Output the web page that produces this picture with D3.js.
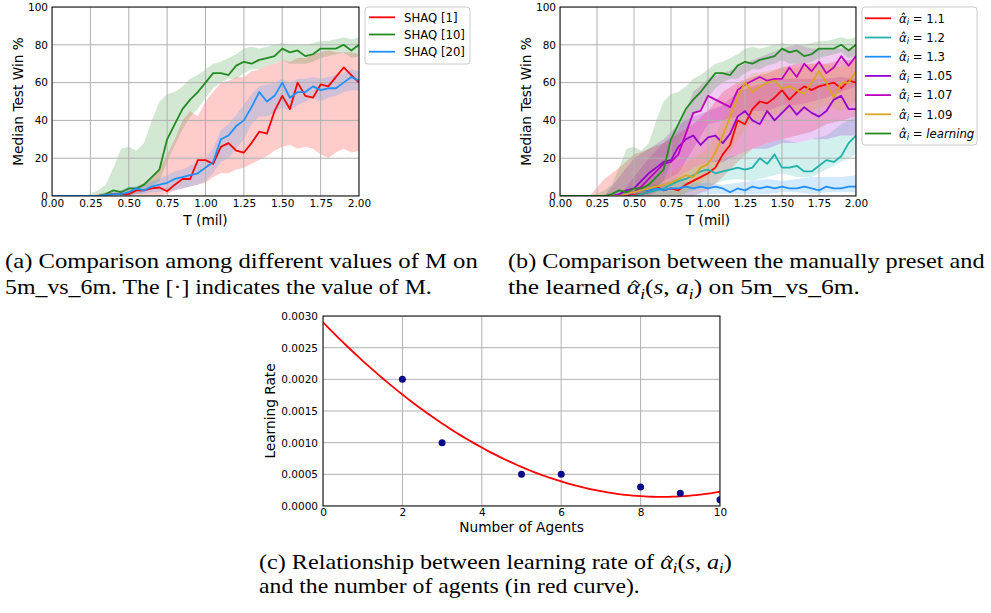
<!DOCTYPE html>
<html>
<head>
<meta charset="utf-8">
<script src="https://cdn.jsdelivr.net/npm/d3@7"></script>
<style>
body { margin: 0; background: #fff; }
svg text { font-family: "DejaVu Sans", sans-serif; fill: #000; }
svg .cap text { font-family: "Liberation Serif", "Times New Roman", serif; }
</style>
</head>
<body>
<svg id="fig" width="991" height="613"></svg>
<script>
// sample times (million steps)
var T = [0,0.05,0.1,0.15,0.2,0.25,0.3,0.35,0.4,0.45,0.5,0.55,0.6,0.65,0.7,0.75,0.8,0.85,0.9,0.95,
         1,1.05,1.1,1.15,1.2,1.25,1.3,1.35,1.4,1.45,1.5,1.55,1.6,1.65,1.7,1.75,1.8,1.85,1.9,1.95,2];
var TB = [0,0.1,0.2,0.3,0.4,0.5,0.6,0.7,0.8,0.9,1,1.1,1.2,1.3,1.4,1.5,1.6,1.7,1.8,1.9,2];
var xTicks = [0,0.25,0.5,0.75,1,1.25,1.5,1.75,2];
var yTicks = [0,20,40,60,80,100];

// panel (a): median win % and spread bands
var shaq1  = [0,0,0,0,0,0,0,0.5,1,1,1,3,3,4,4.5,2.5,6,9,9,19,19,17,26,28,24,23,28,34,33,45,53,46,60,53,52,59,58,63,68,64,60];
var shaq10 = [0,0,0,0,0,0,0,1,3,2,4,4,6,10,14,30,38,46,51,55,60,65,65,64,69,71,70,72,73,74,78,76,77,74,75,78,78,78,80,77,80];
var shaq20 = [0,0,0,0,0,0,0,0.5,1,1,2,4,3,5,6,7,9,10,11,12,15,18,30,32,37,40,47,55,50,53,60,52,55,55,58,56,57,57,60,63,61];
var shaq10Hi = [0,0,0,0,0,1,3,6,15,25,26,24,28,40,50,54,55,58,62,64,67,70,71,73,75,78,79,78,79,80,81,80,80,80,81,82,82,83,84,83,84];
var shaq10Lo = [0,0,0,0,0,0,0,0,0,0,0,1,2,5,8,18,27,35,42,46,52,57,60,62,62,65,67,67,69,70,72,70,70,70,71,73,74,75,76,73,74];
var shaq1Hi  = [0,0,0,0,0,0,1,2,2,3,4,5,7,10,15,22,30,40,45,42,50,55,60,61,63,63,66,67,69,70,72,71,73,73,75,76,77,76,76,76,75];
var shaq1Lo  = [0,0,0,0,0,0,0,0,0,0,0,0,0,0,0,1,3,4,5,6,7,10,12,12,14,15,17,19,21,24,26,27,25,26,25,22,20,23,25,23,24];
var shaq20Hi = [0,0,0,0,0,0,0,0,2,3,5,5,6,8,9,11,13,14,16,18,20,25,35,38,43,48,54,58,59,60,62,60,62,62,63,62,63,64,65,67,66];
var shaq20Lo = [0,0,0,0,0,0,0,0,0,0,0,1,1,2,2,3,3,4,5,6,8,12,18,20,25,30,38,42,42,44,47,45,48,50,52,50,52,53,55,56,56];

// panel (b): preset alpha values vs learned
var a11  = [0,0,0,0,0,0,0,0,0,0,0.5,1,2,5,3,4,3,6,8,10,12,15,22,27,40,38,46,50,49,52,56,51,55,58,56,58,59,60,57,61,60];
var a12  = [0,0,0,0,0,0,0,0,0,0,0,1,2,3,4,6,8,9,11,13,14,12,13,14,15,14,15,20,17,22,15,15,16,13,13,16,19,18,21,28,32];
var a13  = [0,0,0,0,0,0,0,0,0,1,2,3,3,4,3,4,4,5,4,5,4,5,4,2,4,3,5,4,5,4,5,4,4,5,4,3,5,4,4,5,5];
var a105 = [0,0,0,0,0,0,0,0,1,3,4,8,12,15,18,19,26,30,32,27,31,32,28,33,42,45,40,38,45,40,44,48,43,47,44,42,45,51,53,46,46];
var a107 = [0,0,0,0,0,0,0,0,0,0,2,5,9,13,17,18,22,33,44,45,53,51,49,47,56,59,61,63,61,62,62,68,63,70,66,71,65,68,74,69,74];
var a109 = [0,0,0,0,0,0,0,0,0,1,2,3,4,5,6,7,9,11,10,15,17,23,32,42,52,60,55,58,60,61,57,58,56,54,60,66,60,52,60,60,66];
var a11Hi  = [0,0,0,9,15,22,25,28,33,38,45,55,60,63,65,68,70,70,70,72,72];
var a11Lo  = [0,0,0,0,0,0,0,0,0,0,3,10,18,25,28,30,32,34,38,40,42];
var a12Hi  = [0,0,0,0,0,0,3,6,10,15,18,20,22,25,28,30,28,30,32,38,42];
var a12Lo  = [0,0,0,0,0,0,0,0,0,3,5,8,9,8,10,12,10,10,14,18,22];
var a13Hi  = [0,0,0,0,0,4,6,7,8,7,7,6,7,8,9,8,9,10,10,10,11];
var a13Lo  = [0,0,0,0,0,0,0,0,0,0,1,1,1,1,1,2,2,1,2,2,2];
var a105Hi = [0,0,0,0,10,20,25,30,38,42,45,48,55,58,60,62,62,62,62,63,62];
var a105Lo = [0,0,0,0,0,0,0,4,10,15,18,18,22,25,25,28,28,30,30,32,32];
var a107Hi = [0,0,0,0,0,10,20,28,35,55,62,65,68,72,75,78,80,78,78,78,78];
var a107Lo = [0,0,0,0,0,0,2,8,12,25,38,40,42,45,45,48,48,50,52,55,58];
var a109Hi = [0,0,0,0,0,5,7,10,15,20,25,40,58,65,66,68,68,70,70,68,72];
var a109Lo = [0,0,0,0,0,0,0,0,0,4,10,18,30,40,42,44,45,45,48,45,50];

// panel (c): learning rate by number of agents
var agents = [2,3,5,6,8,9,10];
var lrates = [0.002,0.001,0.0005,0.0005,0.0003,0.0002,0.0001];
var cxTicks = [0,2,4,6,8,10];
var cyTicks = [0,0.0005,0.001,0.0015,0.002,0.0025,0.003];

var svg = d3.select("#fig");

var seriesA = [
    { name: "SHAQ [1]",  color: "#ff0000", t: T, v: shaq1,  bt: T, hi: shaq1Hi,  lo: shaq1Lo },
    { name: "SHAQ [10]", color: "#228b22", t: T, v: shaq10, bt: T, hi: shaq10Hi, lo: shaq10Lo },
    { name: "SHAQ [20]", color: "#1e90ff", t: T, v: shaq20, bt: T, hi: shaq20Hi, lo: shaq20Lo }
];
var seriesB = [
    { rhs: "1.1",  color: "#ff0000", t: T, v: a11,  bt: TB, hi: a11Hi,  lo: a11Lo },
    { rhs: "1.2",  color: "#20b2aa", t: T, v: a12,  bt: TB, hi: a12Hi,  lo: a12Lo },
    { rhs: "1.3",  color: "#1e90ff", t: T, v: a13,  bt: TB, hi: a13Hi,  lo: a13Lo },
    { rhs: "1.05", color: "#9400d3", t: T, v: a105, bt: TB, hi: a105Hi, lo: a105Lo },
    { rhs: "1.07", color: "#bf00bf", t: T, v: a107, bt: TB, hi: a107Hi, lo: a107Lo },
    { rhs: "1.09", color: "#daa520", t: T, v: a109, bt: TB, hi: a109Hi, lo: a109Lo },
    { rhs: "learning", italic: true, color: "#228b22", t: T, v: shaq10, bt: T, hi: shaq10Hi, lo: shaq10Lo }
];

//draws one win-rate panel with bands, grid, lines and frame
function winPanel(x0, x1, series, labelX, id) {
    var x = d3.scaleLinear().domain([0, 2]).range([x0, x1]);
    var y = d3.scaleLinear().domain([0, 100]).range([196, 7]);
    var g = svg.append("g");
    g.append("clipPath").attr("id", id).append("rect")
        .attr("x", x0).attr("y", 7).attr("width", x1 - x0).attr("height", 189);
    var plot = g.append("g").attr("clip-path", "url(#" + id + ")");

    var area = d3.area().x(d => x(d[0])).y0(d => y(d[1])).y1(d => y(d[2]));
    plot.selectAll(".band").data(series).enter().append("path")
        .attr("class", "band")
        .attr("d", s => area(s.bt.map((t, i) => [t, s.lo[i], s.hi[i]])))
        .attr("fill", s => s.color).attr("fill-opacity", 0.2);

    //grid above the bands like matplotlib
    plot.selectAll(".gx").data(xTicks).enter().append("line")
        .attr("x1", d => x(d)).attr("x2", d => x(d)).attr("y1", 7).attr("y2", 196)
        .attr("stroke", "#b0b0b0").attr("stroke-width", 1);
    plot.selectAll(".gy").data(yTicks).enter().append("line")
        .attr("y1", d => y(d)).attr("y2", d => y(d)).attr("x1", x0).attr("x2", x1)
        .attr("stroke", "#b0b0b0").attr("stroke-width", 1);

    var line = d3.line().x(d => x(d[0])).y(d => y(d[1]));
    plot.selectAll(".ln").data(series).enter().append("path")
        .attr("d", s => line(s.t.map((t, i) => [t, s.v[i]])))
        .attr("fill", "none").attr("stroke", s => s.color)
        .attr("stroke-width", 1.8).attr("stroke-linejoin", "round");

    g.append("rect").attr("x", x0).attr("y", 7).attr("width", x1 - x0).attr("height", 189)
        .attr("fill", "none").attr("stroke", "#000").attr("stroke-width", 1);

    var ax = g.append("g").attr("transform", "translate(0,196)")
        .call(d3.axisBottom(x).tickValues(xTicks).tickFormat(d3.format(".2f")).tickSize(0).tickPadding(3.5));
    var ay = g.append("g").attr("transform", "translate(" + x0 + ",0)")
        .call(d3.axisLeft(y).tickValues(yTicks).tickSize(0).tickPadding(4));
    [ax, ay].forEach(a => {
        a.select(".domain").remove();
        a.selectAll("text").attr("font-size", 10.5).attr("fill", "#000")
            .style("font-family", "'DejaVu Sans', sans-serif");
    });

    g.append("text").attr("x", (x0 + x1) / 2).attr("y", 225)
        .attr("text-anchor", "middle").attr("font-size", 13.7).text("T (mil)");
    g.append("text").attr("transform", "translate(" + labelX + ",101.5) rotate(-90)")
        .attr("text-anchor", "middle").attr("font-size", 13.7).text("Median Test Win %");
    return g;
}

winPanel(52, 359, seriesA, 22.5, "clipA");
winPanel(560, 856, seriesB, 531, "clipB");

//legend boxes
function legendBox(x, y, w, h) {
    svg.append("rect").attr("x", x).attr("y", y).attr("width", w).attr("height", h)
        .attr("rx", 3).attr("fill", "#fff").attr("fill-opacity", 0.85)
        .attr("stroke", "#cccccc").attr("stroke-width", 1);
}
legendBox(365, 7, 105, 57);
var legA = svg.selectAll(".legA").data(seriesA).enter().append("g")
    .attr("transform", (d, i) => "translate(0," + (17.3 + i * 17.2) + ")");
legA.append("line").attr("x1", 369).attr("x2", 395)
    .attr("stroke", d => d.color).attr("stroke-width", 1.8);
legA.append("text").attr("x", 404).attr("dy", "0.36em").attr("font-size", 11.7).text(d => d.name);

legendBox(862, 7, 115, 138);
var legB = svg.selectAll(".legB").data(seriesB).enter().append("g")
    .attr("transform", (d, i) => "translate(0," + (18.3 + i * 19.2) + ")");
legB.append("line").attr("x1", 865).attr("x2", 891)
    .attr("stroke", d => d.color).attr("stroke-width", 1.8);
legB.append("text").attr("x", 899).attr("dy", "0.36em").attr("font-size", 11.7)
    .each(function(d) {
        var t = d3.select(this);
        t.append("tspan").attr("font-style", "italic").text("\u03b1\u0302");
        t.append("tspan").attr("font-style", "italic").attr("font-size", 8.5).attr("dy", 2.5).text("i");
        t.append("tspan").attr("dy", -2.5).text(" = ");
        t.append("tspan").attr("font-style", d.italic ? "italic" : null).text(d.rhs);
    });

// panel (c)
var cx = d3.scaleLinear().domain([0, 10]).range([323, 720]);
var cy = d3.scaleLinear().domain([0, 0.003]).range([506, 316]);
var gc = svg.append("g");
gc.append("clipPath").attr("id", "clipC").append("rect")
    .attr("x", 323).attr("y", 316).attr("width", 397).attr("height", 190);
var pc = gc.append("g").attr("clip-path", "url(#clipC)");
pc.selectAll(".gx").data(cxTicks).enter().append("line")
    .attr("x1", d => cx(d)).attr("x2", d => cx(d)).attr("y1", 316).attr("y2", 506)
    .attr("stroke", "#b0b0b0").attr("stroke-width", 1);
pc.selectAll(".gy").data(cyTicks).enter().append("line")
    .attr("y1", d => cy(d)).attr("y2", d => cy(d)).attr("x1", 323).attr("x2", 720)
    .attr("stroke", "#b0b0b0").attr("stroke-width", 1);

//least squares quadratic through the points (the red curve)
function quadFit(xs, ys) {
    var S = [0, 0, 0, 0, 0], R = [0, 0, 0];
    xs.forEach((xv, i) => {
        for (var k = 0; k < 5; k++) S[k] += Math.pow(xv, k);
        for (var k = 0; k < 3; k++) R[k] += ys[i] * Math.pow(xv, k);
    });
    var M = [[S[0], S[1], S[2], R[0]], [S[1], S[2], S[3], R[1]], [S[2], S[3], S[4], R[2]]];
    for (var c = 0; c < 3; c++) {
        for (var r = c + 1; r < 3; r++) {
            var f = M[r][c] / M[c][c];
            for (var k = c; k < 4; k++) M[r][k] -= f * M[c][k];
        }
    }
    var coef = [0, 0, 0];
    for (var r = 2; r >= 0; r--) {
        var s = M[r][3];
        for (var k = r + 1; k < 3; k++) s -= M[r][k] * coef[k];
        coef[r] = s / M[r][r];
    }
    return coef;
}
var coef = quadFit(agents, lrates);
var fitX = d3.range(0, 10.01, 0.1);
pc.append("path")
    .attr("d", d3.line().x(d => cx(d)).y(d => cy(coef[0] + coef[1] * d + coef[2] * d * d))(fitX))
    .attr("fill", "none").attr("stroke", "#ff0000").attr("stroke-width", 1.8);
pc.selectAll(".pt").data(agents).enter().append("circle")
    .attr("cx", d => cx(d)).attr("cy", (d, i) => cy(lrates[i])).attr("r", 3.5)
    .attr("fill", "#0b0b8a");
gc.append("rect").attr("x", 323).attr("y", 316).attr("width", 397).attr("height", 190)
    .attr("fill", "none").attr("stroke", "#000").attr("stroke-width", 1);
var cax = gc.append("g").attr("transform", "translate(0,506)")
    .call(d3.axisBottom(cx).tickValues(cxTicks).tickFormat(d3.format("d")).tickSize(0).tickPadding(3));
var cay = gc.append("g").attr("transform", "translate(323,0)")
    .call(d3.axisLeft(cy).tickValues(cyTicks).tickFormat(d3.format(".4f")).tickSize(0).tickPadding(5));
[cax, cay].forEach(a => {
    a.select(".domain").remove();
    a.selectAll("text").attr("font-size", 10.5).attr("fill", "#000")
        .style("font-family", "'DejaVu Sans', sans-serif");
});
gc.append("text").attr("x", 521.5).attr("y", 532).attr("text-anchor", "middle")
    .attr("font-size", 13.7).text("Number of Agents");
gc.append("text").attr("transform", "translate(274.5,411) rotate(-90)")
    .attr("text-anchor", "middle").attr("font-size", 13.7).text("Learning Rate");

//captions, squeezed to the measured widths; hats drawn as small paths over marked letters
function caption(x, y, w, size, parts) {
    var g = svg.append("g").attr("class", "cap");
    var t = g.append("text").attr("font-size", size);
    var shift = 0, idx = 0, hats = [];
    parts.forEach(p => {
        var s = t.append("tspan").text(p.t);
        if (p.it) s.attr("font-style", "italic");
        var want = p.sub ? size * 0.22 : 0;
        if (want !== shift) { s.attr("dy", want - shift); shift = want; }
        if (p.sub) s.attr("font-size", size * 0.68);
        if (p.hat) hats.push(idx);
        idx += p.t.length;
    });
    hats.forEach(i => {
        var e = t.node().getExtentOfChar(i);
        var c = e.x + e.width / 2 + 1.2, hw = size * 0.14;
        g.append("path")
            .attr("d", "M" + (c - hw) + "," + (-size * 0.52) + "L" + c + "," + (-size * 0.65) +
                "L" + (c + hw) + "," + (-size * 0.52))
            .attr("fill", "none").attr("stroke", "#000").attr("stroke-width", 1);
    });
    var len = t.node().getComputedTextLength();
    g.attr("transform", "translate(" + x + "," + y + ") scale(" + (w / len) + ",1)");
}
var alphaParts = [{ t: "\u03b1", it: true, hat: true }, { t: "i", it: true, sub: true },
    { t: "(" }, { t: "s", it: true }, { t: ", " }, { t: "a", it: true }, { t: "i", it: true, sub: true }, { t: ")" }];

caption(5, 268, 473, 20.5, [{ t: "(a) Comparison among different values of M on" }]);
caption(5, 294, 427, 20.5, [{ t: "5m_vs_6m. The [\u00b7] indicates the value of M." }]);
caption(508, 268, 477, 20.5, [{ t: "(b) Comparison between the manually preset and" }]);
caption(508, 294, 352, 20.5, [{ t: "the learned " }].concat(alphaParts, [{ t: " on 5m_vs_6m." }]));
caption(259, 569, 473, 20, [{ t: "(c) Relationship between learning rate of " }].concat(alphaParts));
caption(259, 593, 381, 20, [{ t: "and the number of agents (in red curve)." }]);
</script>
</body>
</html>
